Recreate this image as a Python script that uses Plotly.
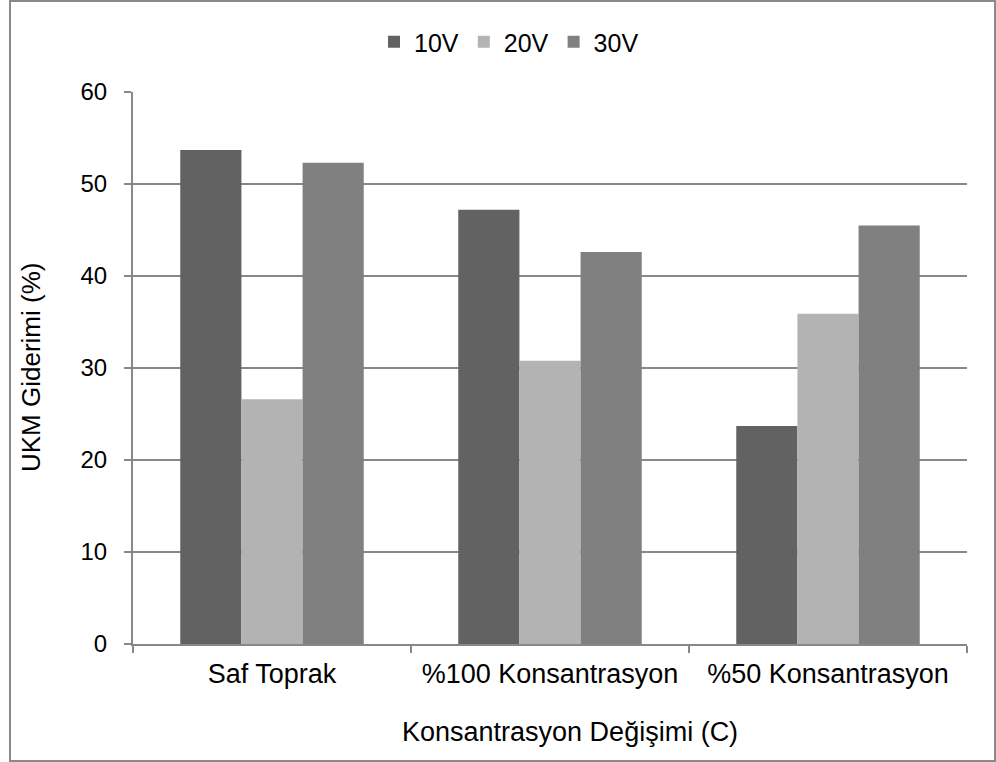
import plotly.graph_objects as go

# Data
categories = ["Saf Toprak", "%100 Konsantrasyon", "%50 Konsantrasyon"]
series_names = ["10V", "20V", "30V"]
values_10v = [53.7, 47.2, 23.7]
values_20v = [26.6, 30.8, 35.9]
values_30v = [52.3, 42.6, 45.5]
series_colors = ["#626262", "#b3b3b3", "#808080"]
y_ticks = [0, 10, 20, 30, 40, 50, 60]

W, H = 996, 762
L, R, T, B = 133, 29, 92, 118
plot_w = W - L - R
plot_h = H - T - B

FONT = "Liberation Sans, Arial, sans-serif"
GRID = "#888888"

fig = go.Figure()
for name, vals, col in zip(series_names, [values_10v, values_20v, values_30v], series_colors):
    fig.add_trace(go.Bar(
        x=categories, y=vals, name=name,
        marker=dict(color=col, line=dict(width=0)),
    ))


def px_x(px):
    return (px - L) / plot_w


def px_y(py):
    return (H - B - py) / plot_h


fig.update_layout(
    width=W, height=H,
    margin=dict(l=L, r=R, t=T, b=B),
    paper_bgcolor="white", plot_bgcolor="white",
    font=dict(family=FONT, size=24, color="#000000"),
    barmode="group", bargap=0.34, bargroupgap=0,
    showlegend=True,
    legend=dict(
        orientation="h", x=px_x(374), y=px_y(42), xanchor="left", yanchor="middle",
        font=dict(size=25), itemwidth=30, traceorder="normal",
        bgcolor="rgba(0,0,0,0)",
    ),
    xaxis=dict(
        type="category", tickson="boundaries",
        showgrid=False, showline=True, linecolor=GRID, linewidth=2,
        ticks="outside", ticklen=7, tickwidth=2, tickcolor=GRID,
        tickfont=dict(size=27), ticklabelstandoff=5,
    ),
    yaxis=dict(
        range=[0, 60], tickvals=y_ticks,
        showgrid=True, gridcolor=GRID, gridwidth=2,
        showline=True, linecolor=GRID, linewidth=2,
        zeroline=False,
        ticks="outside", ticklen=7, tickwidth=2, tickcolor=GRID,
        tickfont=dict(size=24), ticklabelstandoff=12,
    ),
    shapes=[dict(
        type="rect", xref="paper", yref="paper",
        x0=px_x(10), x1=px_x(995), y0=px_y(761), y1=px_y(1),
        line=dict(color="#8a8a8a", width=2), fillcolor="rgba(0,0,0,0)",
        layer="below",
    )],
    annotations=[
        dict(text="UKM Giderimi (%)", xref="paper", yref="paper",
             x=px_x(31), y=px_y(368), textangle=-90, showarrow=False,
             xanchor="center", yanchor="middle", font=dict(size=26)),
        dict(text="Konsantrasyon Değişimi (C)", xref="paper", yref="paper",
             x=px_x(570), y=px_y(732), showarrow=False,
             xanchor="center", yanchor="middle", font=dict(size=27)),
    ],
)

fig.write_html("out.html")
